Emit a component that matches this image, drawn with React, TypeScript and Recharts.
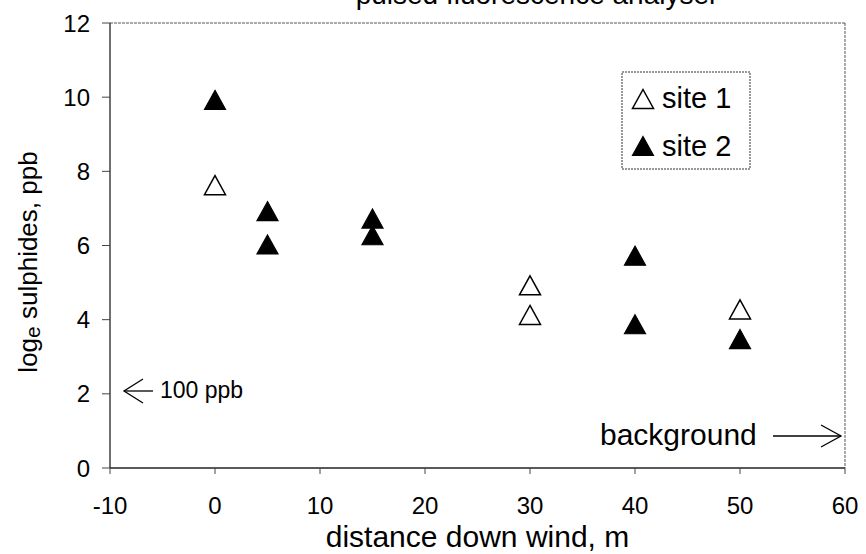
import React from 'react';
import { ScatterChart, Scatter, XAxis, YAxis, Customized } from 'recharts';

const site1X = [0, 30, 30, 50];
const site1Y = [7.6, 4.9, 4.1, 4.25];
const site2X = [0, 5, 5, 15, 15, 40, 40, 50];
const site2Y = [9.9, 6.9, 6.0, 6.7, 6.25, 5.7, 3.85, 3.45];
const xTicks = [-10, 0, 10, 20, 30, 40, 50, 60];
const yTicks = [0, 2, 4, 6, 8, 10, 12];

const site1 = site1X.map((x, i) => ({ x, y: site1Y[i] }));
const site2 = site2X.map((x, i) => ({ x, y: site2Y[i] }));

const FONT = '"Liberation Sans", Arial, sans-serif';

const tri = (cx: number, cy: number) =>
  `M${cx},${cy - 10.5} L${cx + 10.5},${cy + 8.5} L${cx - 10.5},${cy + 8.5} Z`;

const OpenTri = (p: any) => (
  <path d={tri(p.cx, p.cy)} fill="#fff" stroke="#000" strokeWidth={1.5} />
);
const FilledTri = (p: any) => (
  <path d={tri(p.cx, p.cy)} fill="#000" stroke="#000" strokeWidth={1.2} />
);

const Annotations = () => (
  <g>
    {/* partially visible title (cut off at the top, as in the source) */}
    <text x={537} y={4} textAnchor="middle" fontFamily={FONT} fontSize={28} fill="#000">
      pulsed fluorescence analyser
    </text>
    {/* legend */}
    <rect x={622} y={72} width={128} height={97} fill="#fff" stroke="#333" strokeWidth={1} strokeDasharray="2 1" />
    <path d={tri(643, 100)} fill="#fff" stroke="#000" strokeWidth={1.5} />
    <text x={662} y={108} fontFamily={FONT} fontSize={29} fill="#000">site 1</text>
    <path d={tri(643, 147)} fill="#000" stroke="#000" strokeWidth={1.2} />
    <text x={662} y={156} fontFamily={FONT} fontSize={29} fill="#000">site 2</text>
    {/* 100 ppb arrow */}
    <line x1={124} y1={391} x2={153} y2={391} stroke="#000" strokeWidth={1.3} />
    <polyline points="143,379 124,391 143,403" fill="none" stroke="#000" strokeWidth={1.3} />
    <text x={160} y={398} fontFamily={FONT} fontSize={23} fill="#000">100 ppb</text>
    {/* background arrow */}
    <text x={600} y={445} fontFamily={FONT} fontSize={30} fill="#000">background</text>
    <line x1={773} y1={436} x2={841} y2={436} stroke="#000" strokeWidth={1.3} />
    <polyline points="821,425 841,436 821,447" fill="none" stroke="#000" strokeWidth={1.3} />
    {/* plot border top & right */}
    <line x1={110} y1={23} x2={845} y2={23} stroke="#555" strokeWidth={1} strokeDasharray="3 1" />
    <line x1={845} y1={23} x2={845} y2={468} stroke="#555" strokeWidth={1} strokeDasharray="3 1" />
  </g>
);

const YLabel = () => (
  <text
    transform="translate(37,262) rotate(-90)"
    textAnchor="middle"
    fontFamily={FONT}
    fontSize={26}
    fill="#000"
  >
    log
    <tspan fontSize={21} dy={3}>e</tspan>
    <tspan dy={-3}> sulphides, ppb</tspan>
  </text>
);

export default function App() {
  return (
    <div style={{ position: 'absolute', left: 0, top: 0, width: 866, height: 554, background: '#fff' }}>
      <ScatterChart width={866} height={554} margin={{ top: 23, right: 21, bottom: 0, left: 0 }}>
        <XAxis
          type="number"
          dataKey="x"
          domain={[-10, 60]}
          ticks={xTicks}
          interval={0}
          height={86}
          axisLine={{ stroke: '#222', strokeWidth: 1.3 }}
          tickLine={{ stroke: '#444' }}
          tickSize={6}
          tickMargin={23}
          tick={{ fill: '#000', fontSize: 24, fontFamily: FONT }}
          label={{ value: 'distance down wind, m', position: 'insideBottom', offset: 7, fill: '#000', fontSize: 30, fontFamily: FONT }}
        />
        <YAxis
          type="number"
          dataKey="y"
          domain={[0, 12]}
          ticks={yTicks}
          interval={0}
          width={110}
          axisLine={{ stroke: '#222', strokeWidth: 1.3 }}
          tickLine={{ stroke: '#444' }}
          tickSize={8}
          tickMargin={12}
          tick={{ fill: '#000', fontSize: 24, fontFamily: FONT }}
        />
        <Scatter data={site1} shape={OpenTri} isAnimationActive={false} />
        <Scatter data={site2} shape={FilledTri} isAnimationActive={false} />
        <Customized component={Annotations} />
        <Customized component={YLabel} />
      </ScatterChart>
    </div>
  );
}
